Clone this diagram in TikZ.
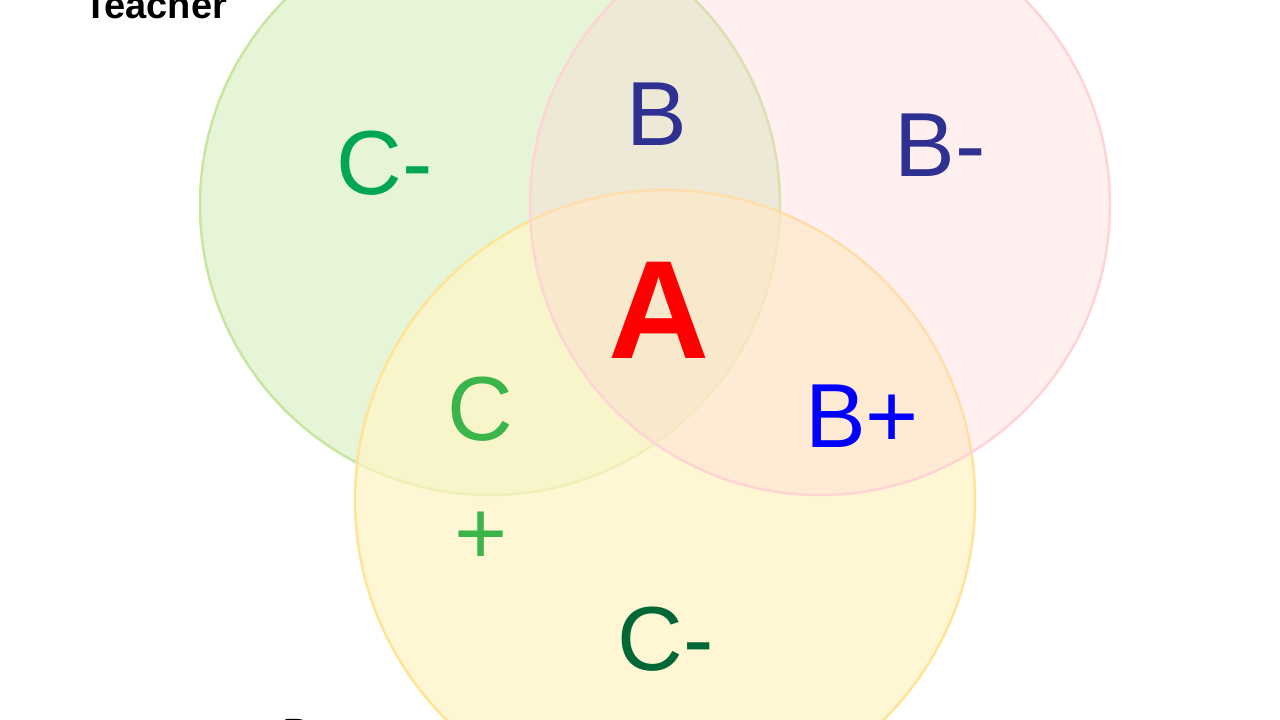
\documentclass[tikz,border=0pt]{standalone}
\usepackage{fontspec}
\setmainfont{Liberation Sans}
\definecolor{gfill}{RGB}{230,245,216}
\definecolor{pfill}{RGB}{255,212,212}
\definecolor{yfill}{RGB}{255,245,195}
\definecolor{gline}{RGB}{200,230,160}
\definecolor{pline}{RGB}{255,212,212}
\definecolor{yline}{RGB}{255,228,150}
\definecolor{gradeA}{RGB}{255,0,0}
\definecolor{gradeDB}{RGB}{46,49,146}
\definecolor{gradeBB}{RGB}{0,0,255}
\definecolor{gradeG}{RGB}{0,166,81}
\definecolor{gradeLG}{RGB}{57,181,74}
\definecolor{gradeDG}{RGB}{0,104,55}
\tikzset{
  setcircle/.style={line width=2.5pt},
  grade/.style={inner sep=0pt, anchor=base, font=\fontsize{91}{100}\selectfont},
  who/.style={inner sep=0pt, anchor=base west, font=\fontsize{38}{40}\selectfont\bfseries}
}
\begin{document}
\begin{tikzpicture}[x=1pt,y=-1pt]
\useasboundingbox (0,0) rectangle (1280,720);
\fill[white] (0,0) rectangle (1280,720);
\clip (0,0) rectangle (1280,720);
\filldraw[setcircle, fill=gfill, draw=gline] (490,205) circle[radius=290];
\filldraw[setcircle, fill=yfill, fill opacity=0.7, draw=yline] (665,500) circle[radius=310];
\filldraw[setcircle, fill=pfill, fill opacity=0.35, draw=pline] (820,205) circle[radius=290];
\node[who] (teacher) at (84,18) {Teacher};
\node[who] (parent) at (283,745) {Parent};
\node[grade, text=gradeG] (cminusT) at (385,194) {C-};
\node[grade, text=gradeDB] (bTP) at (657,145) {B};
\node[grade, text=gradeDB] (bminusP) at (940,176) {B-};
\node[grade, text=gradeA, font=\fontsize{140}{150}\selectfont\bfseries] (aAll) at (659,358) {A};
\node[grade, text=gradeLG] (cTY) at (480,440) {C};
\node[grade, text=gradeLG] (plusTY) at (481,564) {+};
\node[grade, text=gradeBB] (bplusPY) at (862,447) {B+};
\node[grade, text=gradeDG] (cminusY) at (666,670) {C-};
\end{tikzpicture}
\end{document}
